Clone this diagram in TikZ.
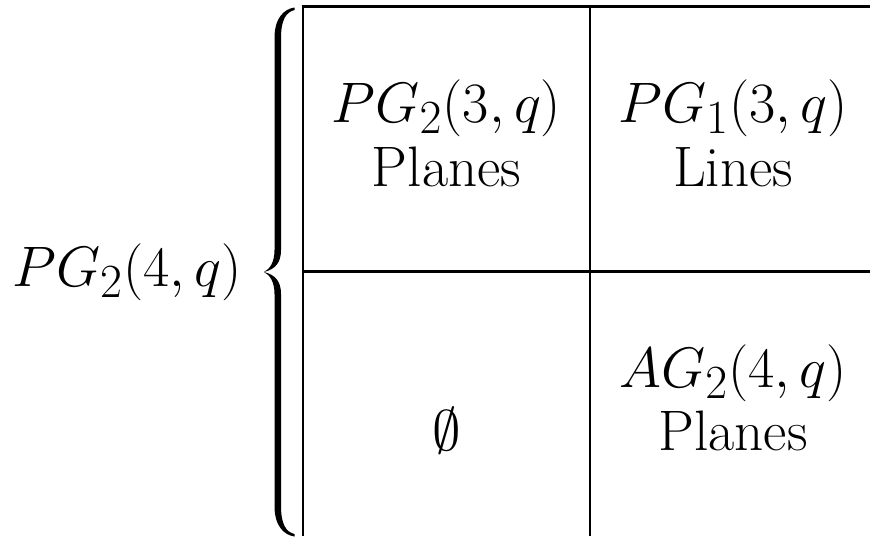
\documentclass[tikz,border=0pt]{standalone}
\begin{document}
\begin{tikzpicture}[x=0.436pt,y=-0.436pt,
  gridline/.style={line width=1.3pt},
  lbl/.style={inner sep=0pt,font=\Huge}]
\useasboundingbox (0,0) rectangle (870,536);
% grid coordinates
\coordinate (v1t) at (303,4.6);
\coordinate (v1b) at (303,536);
\coordinate (v2t) at (590,4.6);
\coordinate (v2b) at (590,536);
\coordinate (h1l) at (301.5,6);
\coordinate (h1r) at (870,6);
\coordinate (h2l) at (303,271);
\coordinate (h2r) at (870,271);
\draw[gridline] (h1l) -- (h1r);
\draw[gridline] (h2l) -- (h2r);
\draw[gridline] (v1t) -- (v1b);
\draw[gridline] (v2t) -- (v2b);
% brace
\fill (294.5,7.5) .. controls (284,9) and (274.5,18) .. (274.5,38) -- (274.5,250)
  .. controls (274.5,262) and (270,269) .. (264,272)
  .. controls (270,275) and (274.5,282) .. (274.5,294) -- (274.5,506)
  .. controls (274.5,526) and (284,535) .. (294.5,536.5) -- (294.5,534)
  .. controls (286,532) and (281,524) .. (281,506) -- (281,294)
  .. controls (281,282) and (276,275) .. (264,272)
  .. controls (276,269) and (281,262) .. (281,250) -- (281,38)
  .. controls (281,20) and (286,12) .. (294.5,10) -- cycle;
% labels
\node[lbl] (left) at (127,272) {$PG_2(4,q)$};
\node[lbl,anchor=base] (c1a) at (446.5,122) {$PG_2(3,q)$};
\node[lbl,anchor=base] (c1b) at (446.5,186) {Planes};
\node[lbl,anchor=base] (c2a) at (733,122) {$PG_1(3,q)$};
\node[lbl,anchor=base] (c2b) at (733,186) {Lines};
\node[lbl,anchor=base] (c4a) at (733,387) {$AG_2(4,q)$};
\node[lbl,anchor=base] (c4b) at (733,450) {Planes};
\node[lbl,anchor=base] (c3) at (446.5,450) {$\emptyset$};
\end{tikzpicture}
\end{document}
